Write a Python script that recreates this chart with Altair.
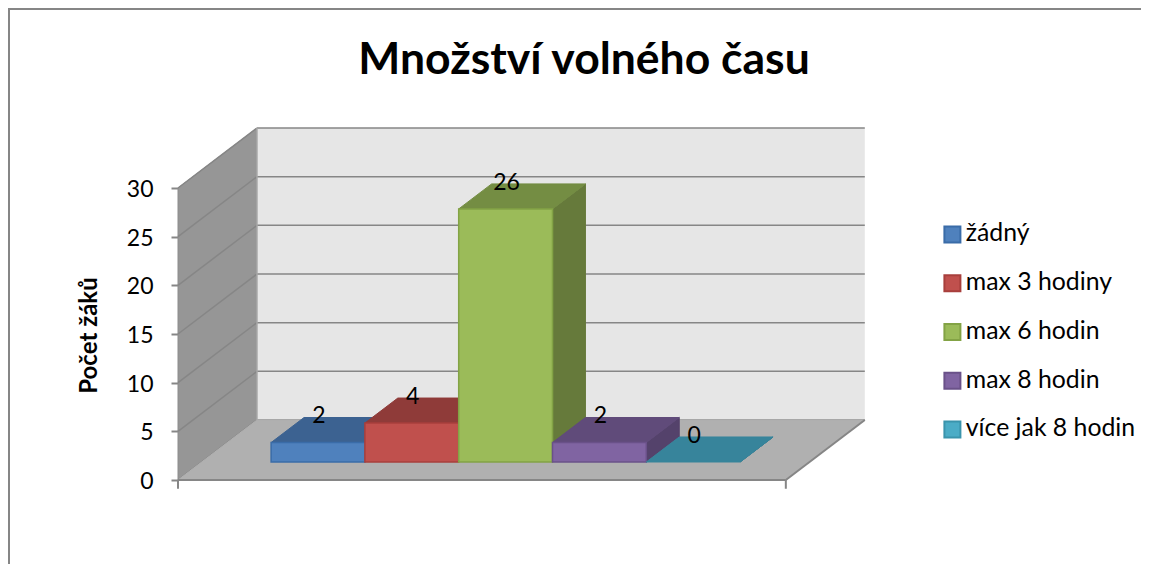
import altair as alt
import pandas as pd

TITLE = "Množství volného času"
Y_TITLE = "Počet žáků"
series = ["žádný", "max 3 hodiny", "max 6 hodin", "max 8 hodin", "více jak 8 hodin"]
values = [2, 4, 26, 2, 0]
fronts = ["#4F81BD", "#C0504D", "#9BBB59", "#8064A2", "#4BACC6"]
edges = ["#3A6CA8", "#A83F3C", "#83A345", "#6A5189", "#3A94AC"]
tops = ["#3C6291", "#8F3B39", "#748D43", "#604B7A", "#37849B"]
sides = ["#345580", "#7E3331", "#667A3B", "#54426B", "#317488"]
y_ticks = [0, 5, 10, 15, 20, 25, 30]

FONT = "Lato"
WALL, BACK, FLOOR, GRID = "#969696", "#E6E6E6", "#B0B0B0", "#868686"
PLOT_W, PLOT_H = 963, 556

# Axis units: one x unit is one bar width, y units are the axis' own.
X_MAX, Y_MAX, Y_MIN = PLOT_W / 93.8, 472 / 9.733, -84 / 9.733
FLOOR_W = 6.48          # width of the floor along the front edge
DEPTH_X, DEPTH_Y = 0.842, 6.165   # shift from the front to the back of the box
BAR0 = 0.74             # first bar's left edge
BAR_DZ0, BAR_DZ1 = 0.30, 0.717  # bars' front and back, as fractions of depth
YMAX = 30

xs = alt.Scale(domain=[0, X_MAX], range=[0, PLOT_W], nice=False, zero=False)
ys = alt.Scale(domain=[Y_MIN, Y_MAX], range=[PLOT_H, 0], nice=False, zero=False)
fill_s = alt.Scale(domain=series, range=fronts)
stroke_s = alt.Scale(domain=series, range=edges)

y_axis = alt.Axis(
    values=y_ticks, domain=False, grid=False, ticks=True, tickColor=GRID, tickWidth=2,
    tickSize=7, labelPadding=18, labelOffset=1.5, labelFont=FONT, labelFontSize=23, labelColor="#000000",
    titleFont=FONT, titleFontSize=24, titleFontWeight="bold", titleColor="#000000",
    titleX=-77, titleY=327, titleAngle=-90, format="d",
)


def X(f="x"):
    return alt.X(f"{f}:Q", scale=xs, axis=None)


def Y(f="y"):
    return alt.Y(f"{f}:Q", scale=ys, title=Y_TITLE, axis=y_axis)


def area_v(rows, fill, stroke=None, sw=1):
    return alt.Chart(pd.DataFrame(rows)).mark_area(
        fill=fill, stroke=stroke or fill, strokeWidth=sw, orient="vertical"
    ).encode(x=X(), y=Y(), y2=alt.Y2("y2:Q"))


def area_h(rows, fill, stroke=None, sw=1):
    return alt.Chart(pd.DataFrame(rows)).mark_area(
        fill=fill, stroke=stroke or fill, strokeWidth=sw, orient="horizontal"
    ).encode(y=Y(), x=X(), x2=alt.X2("x2:Q"))


def rule(rows, color=GRID, sw=1.5):
    return alt.Chart(pd.DataFrame(rows)).mark_rule(color=color, strokeWidth=sw).encode(
        x=X(), x2=alt.X2("x2:Q"), y=Y(), y2=alt.Y2("y2:Q")
    )


layers = []

# left wall, back wall, floor
layers.append(area_v([
    {"x": 0, "y": 0, "y2": YMAX},
    {"x": DEPTH_X, "y": DEPTH_Y, "y2": DEPTH_Y + YMAX},
], WALL, "#8C8C8C"))
layers.append(alt.Chart(pd.DataFrame([{
    "x": DEPTH_X, "x2": DEPTH_X + FLOOR_W, "y": DEPTH_Y, "y2": DEPTH_Y + YMAX
}])).mark_rect(fill=BACK).encode(x=X(), x2=alt.X2("x2:Q"), y=Y(), y2=alt.Y2("y2:Q")))

grid_rows = []
for t in y_ticks:
    grid_rows.append({"x": 0, "x2": DEPTH_X, "y": t, "y2": t + DEPTH_Y})
    grid_rows.append({"x": DEPTH_X, "x2": DEPTH_X + FLOOR_W, "y": t + DEPTH_Y, "y2": t + DEPTH_Y})
layers.append(rule(grid_rows))
layers.append(rule([{"x": DEPTH_X, "x2": DEPTH_X, "y": DEPTH_Y, "y2": DEPTH_Y + YMAX}], "#A8A8A8", 1.5))

layers.append(area_h([
    {"y": 0, "x": 0, "x2": FLOOR_W},
    {"y": DEPTH_Y, "x": DEPTH_X, "x2": DEPTH_X + FLOOR_W},
], FLOOR))
layers.append(rule([
    {"x": 0, "x2": FLOOR_W, "y": 0, "y2": 0},
    {"x": FLOOR_W, "x2": FLOOR_W + DEPTH_X, "y": 0, "y2": DEPTH_Y},
    {"x": 0, "x2": 0, "y": 0, "y2": -0.9},
    {"x": FLOOR_W, "x2": FLOOR_W, "y": 0, "y2": -0.9},
], GRID, 2))

# bars
legend_cfg = dict(
    title=None, orient="none", legendX=762, legendY=214, symbolType="square",
    symbolSize=256, symbolStrokeWidth=2, symbolOpacity=1, labelFont=FONT, labelFontSize=24.8,
    labelColor="#000000", rowPadding=22.75, labelOffset=1, labelLimit=300, padding=0,
)
for i, (name, val) in enumerate(zip(series, values)):
    x0 = BAR0 + i
    x1 = x0 + 1
    xa, ya = DEPTH_X * BAR_DZ0, DEPTH_Y * BAR_DZ0
    xb, yb = DEPTH_X * BAR_DZ1, DEPTH_Y * BAR_DZ1
    layers.append(area_v([
        {"x": x1 + xa, "y": ya, "y2": ya + val},
        {"x": x1 + xb, "y": yb, "y2": yb + val},
    ], sides[i]))
    layers.append(area_h([
        {"y": ya + val, "x": x0 + xa, "x2": x1 + xa},
        {"y": yb + val, "x": x0 + xb, "x2": x1 + xb},
    ], tops[i]))
    layers.append(alt.Chart(pd.DataFrame([{
        "serie": name, "x": x0 + xa, "x2": x1 + xa, "y": ya, "y2": ya + val
    }])).mark_rect(strokeWidth=1.5, strokeOpacity=1 if val else 0).encode(
        x=X(), x2=alt.X2("x2:Q"), y=Y(), y2=alt.Y2("y2:Q"),
        fill=alt.Fill("serie:N", scale=fill_s, legend=alt.Legend(**legend_cfg)),
        stroke=alt.Stroke("serie:N", scale=stroke_s, legend=alt.Legend(**legend_cfg)),
    ))

# value labels
labels = pd.DataFrame({
    "x": [BAR0 + i + 0.5 + DEPTH_X * BAR_DZ0 + 0.01 for i in range(len(values))],
    "y": [DEPTH_Y * BAR_DZ0 + v + 2.7 for v in values],
    "v": values,
})
layers.append(alt.Chart(labels).mark_text(
    font=FONT, fontSize=23, color="#000000", baseline="middle", align="center"
).encode(x=X(), y=Y(), text="v:Q"))

# outer frame
layers.append(alt.Chart(pd.DataFrame({"a": [0]})).mark_rule(color=GRID, strokeWidth=2).encode(
    x=alt.value(-169), x2=alt.value(PLOT_W), y=alt.value(1), y2=alt.value(1)
))
layers.append(alt.Chart(pd.DataFrame({"a": [0]})).mark_rule(color=GRID, strokeWidth=2).encode(
    x=alt.value(-169), x2=alt.value(-169), y=alt.value(0), y2=alt.value(PLOT_H)
))

chart = alt.layer(*layers).resolve_scale(x="shared", y="shared").properties(
    width=PLOT_W, height=PLOT_H,
    autosize=alt.AutoSizeParams(type="none"),
    padding={"left": 170, "top": 0, "right": 0, "bottom": 0},
    background="#FFFFFF",
    title=alt.TitleParams(
        TITLE, font=FONT, fontSize=44.5, fontWeight="bold", color="#000000",
        anchor="middle", dx=-75.5, dy=111, offset=0, baseline="alphabetic",
    ),
).configure_view(stroke=None)

chart.save("out.html", embed_options={"renderer": "svg", "actions": False})
